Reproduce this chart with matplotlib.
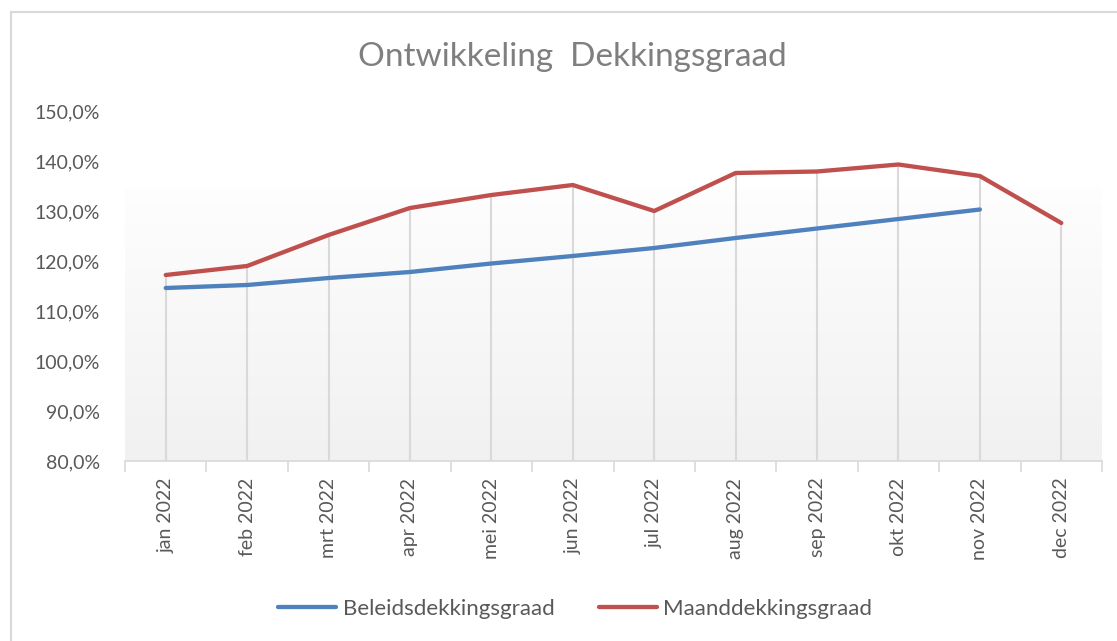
import numpy as np
import matplotlib
matplotlib.use("Agg")
import matplotlib.pyplot as plt
from matplotlib.lines import Line2D
from matplotlib.ticker import FuncFormatter, FixedLocator

plt.rcParams['font.family'] = ['Lato', 'DejaVu Sans']

# data
months = ['jan 2022', 'feb 2022', 'mrt 2022', 'apr 2022', 'mei 2022', 'jun 2022',
          'jul 2022', 'aug 2022', 'sep 2022', 'okt 2022', 'nov 2022', 'dec 2022']
beleid = [114.6, 115.2, 116.6, 117.8, 119.5, 121.0, 122.6, 124.6, 126.5, 128.4, 130.3]
maand = [117.2, 119.0, 125.2, 130.6, 133.2, 135.2, 130.0, 137.6, 137.9, 139.3, 137.0, 127.6]

title = 'Ontwikkeling  Dekkingsgraad'
label_beleid = 'Beleidsdekkingsgraad'
label_maand = 'Maanddekkingsgraad'

txt_col = '#595959'
title_col = '#7f7f7f'
grid_col = '#d9d9d9'
blue = '#4f81bd'
red = '#c0504d'

fig = plt.figure(figsize=(11.17, 6.41), dpi=100)
ax = fig.add_axes([125 / 1117, 1 - 461 / 641, (1102 - 125) / 1117, (461 - 111) / 641])

x = np.arange(len(months))
ax.set_xlim(-0.5, len(months) - 0.5)
ax.set_ylim(80, 150)

# gradient fill of the plot area (white top -> light grey bottom)
grad = np.linspace(0.995, 0.945, 256).reshape(-1, 1)
ax.imshow(np.dstack([grad, grad, grad]), aspect='auto', extent=(-0.5, len(months) - 0.5, 80, 134.5),
          origin='upper', zorder=0, interpolation='bilinear')

# drop lines from the top series to the axis
ax.vlines(x, 80, maand, color=grid_col, lw=1.5, zorder=1)

ax.plot(x[:len(beleid)], beleid, color=blue, lw=3.1, solid_capstyle='round', zorder=3,
        label=label_beleid)
ax.plot(x, maand, color=red, lw=3.1, solid_capstyle='round', zorder=3, label=label_maand)

ax.yaxis.set_major_locator(FixedLocator(np.arange(80, 151, 10)))
ax.yaxis.set_major_formatter(FuncFormatter(lambda v, p: f'{v:.1f}%'.replace('.', ',')))
ax.set_xticks(x)
ax.set_xticklabels(months, rotation=90)
ax.xaxis.set_minor_locator(FixedLocator(np.arange(-0.5, len(months), 1)))
ax.tick_params(axis='x', which='major', length=0, pad=12, labelsize=14, labelcolor=txt_col)
ax.tick_params(axis='x', which='minor', length=8, width=1.2, color=grid_col)
ax.tick_params(axis='y', length=0, pad=18, labelsize=14, labelcolor=txt_col)

for s in ['top', 'right', 'left']:
    ax.spines[s].set_visible(False)
ax.spines['bottom'].set_color(grid_col)
ax.spines['bottom'].set_linewidth(1.2)
ax.set_facecolor('none')

fig.text(572 / 1117, 1 - 57 / 641, title, ha='center', va='center', fontsize=24, color=title_col)

leg = fig.legend(loc='center', bbox_to_anchor=(0.515, 1 - 609 / 641), ncol=2, frameon=False,
                 fontsize=16, handlelength=2.6, columnspacing=2.0, handletextpad=0.3)
for t in leg.get_texts():
    t.set_color(txt_col)

# chart border (top and left visible)
fig.add_artist(Line2D([11 / 1117, 11 / 1117], [0, 1 - 12 / 641], transform=fig.transFigure,
                      color=grid_col, lw=1.5))
fig.add_artist(Line2D([11 / 1117, 1], [1 - 12 / 641, 1 - 12 / 641], transform=fig.transFigure,
                      color=grid_col, lw=1.5))

fig.savefig('out.png', dpi=100)
